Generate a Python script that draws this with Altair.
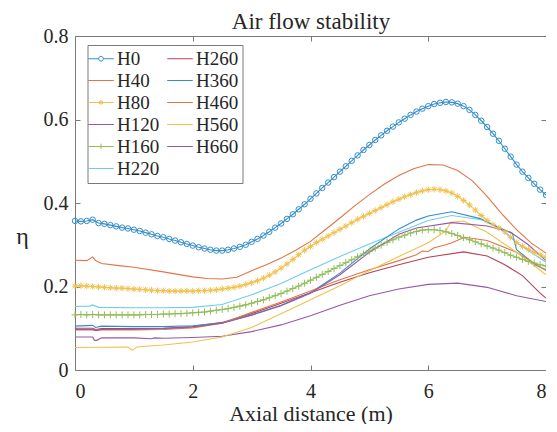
import altair as alt
import pandas as pd

# ---------------- data ----------------
x_fine = [round(i * 0.1, 1) for i in range(81)]

H0_y = [0.357, 0.356, 0.357, 0.360, 0.352, 0.350, 0.347, 0.344, 0.341, 0.339,
        0.336, 0.333, 0.329, 0.325, 0.321, 0.318, 0.314, 0.310, 0.306, 0.302,
        0.298, 0.294, 0.291, 0.288, 0.286, 0.286, 0.288, 0.291, 0.295, 0.300,
        0.307, 0.314, 0.322, 0.331, 0.341, 0.351, 0.362, 0.373, 0.385, 0.397,
        0.410, 0.423, 0.436, 0.449, 0.462, 0.475, 0.488, 0.501, 0.514, 0.527,
        0.539, 0.551, 0.562, 0.573, 0.583, 0.593, 0.602, 0.611, 0.619, 0.626,
        0.632, 0.637, 0.640, 0.642, 0.641, 0.638, 0.632, 0.623, 0.611, 0.597,
        0.582, 0.566, 0.549, 0.530, 0.511, 0.492, 0.475, 0.460, 0.446, 0.432, 0.419]

H80_y = [0.201, 0.202, 0.201, 0.200, 0.199, 0.198, 0.197, 0.196, 0.196, 0.195,
         0.194, 0.193, 0.192, 0.191, 0.190, 0.190, 0.189, 0.189, 0.189, 0.189,
         0.189, 0.190, 0.190, 0.191, 0.192, 0.194, 0.196, 0.198, 0.201, 0.205,
         0.209, 0.214, 0.220, 0.227, 0.235, 0.244, 0.254, 0.265, 0.276, 0.287,
         0.296, 0.305, 0.313, 0.321, 0.329, 0.337, 0.345, 0.353, 0.361, 0.368,
         0.375, 0.382, 0.389, 0.396, 0.403, 0.409, 0.415, 0.420, 0.425, 0.429,
         0.432, 0.433, 0.432, 0.429, 0.424, 0.416, 0.406, 0.395, 0.383, 0.370,
         0.358, 0.348, 0.340, 0.331, 0.318, 0.305, 0.296, 0.289, 0.282, 0.276, 0.270]

H160_y = [0.132, 0.133, 0.132, 0.133, 0.132, 0.132, 0.132, 0.132, 0.132, 0.132,
          0.132, 0.132, 0.133, 0.133, 0.133, 0.134, 0.134, 0.135, 0.135, 0.136,
          0.137, 0.138, 0.139, 0.141, 0.143, 0.145, 0.147, 0.150, 0.153, 0.156,
          0.160, 0.164, 0.168, 0.173, 0.178, 0.183, 0.189, 0.195, 0.201, 0.208,
          0.215, 0.222, 0.229, 0.236, 0.243, 0.250, 0.257, 0.264, 0.271, 0.278,
          0.285, 0.292, 0.299, 0.306, 0.312, 0.318, 0.323, 0.328, 0.332, 0.335,
          0.336, 0.336, 0.334, 0.331, 0.327, 0.322, 0.317, 0.312, 0.307, 0.302,
          0.297, 0.292, 0.287, 0.281, 0.275, 0.270, 0.265, 0.260, 0.256, 0.252, 0.249]

H40_x = [0, 0.2, 0.3, 0.35, 0.45, 0.75, 1.0, 1.5, 2.0, 2.25, 2.5, 2.75, 3.0, 3.25, 3.5,
         3.75, 4.0, 4.25, 4.5, 4.75, 5.0, 5.25, 5.5, 5.75, 6.0, 6.25, 6.5, 6.75, 7.0,
         7.25, 7.5, 7.75, 8.0]
H40_y = [0.263, 0.262, 0.271, 0.262, 0.255, 0.250, 0.246, 0.235, 0.223, 0.219, 0.218,
         0.222, 0.238, 0.252, 0.268, 0.287, 0.308, 0.336, 0.364, 0.393, 0.420, 0.445,
         0.466, 0.482, 0.492, 0.491, 0.478, 0.453, 0.416, 0.374, 0.336, 0.304, 0.280]

H120_x = [0, 0.3, 0.33, 0.37, 0.45, 1.0, 1.3, 1.35, 1.5, 2.0, 2.5, 3.0, 3.5, 4.0, 4.5,
          5.0, 5.5, 6.0, 6.5, 7.0, 7.5, 8.0]
H120_y = [0.079, 0.079, 0.071, 0.071, 0.077, 0.077, 0.075, 0.077, 0.076, 0.078, 0.081,
          0.092, 0.108, 0.130, 0.155, 0.178, 0.194, 0.205, 0.208, 0.198, 0.178, 0.164]

H220_x = [0, 0.25, 0.3, 0.4, 1.0, 1.5, 2.0, 2.5, 3.0, 3.5, 4.0, 4.5, 5.0, 5.5, 6.0,
          6.4, 6.9, 7.2, 7.5, 8.0]
H220_y = [0.152, 0.153, 0.156, 0.150, 0.149, 0.149, 0.150, 0.157, 0.180, 0.207, 0.240,
          0.272, 0.302, 0.330, 0.358, 0.370, 0.360, 0.342, 0.305, 0.258]

H260_x = [0, 0.3, 0.35, 0.45, 1.0, 1.5, 2.0, 2.5, 3.0, 3.5, 4.0, 4.5, 5.0, 5.5, 6.0,
          6.6, 7.0, 7.3, 7.6, 7.9, 8.0]
H260_y = [0.100, 0.100, 0.097, 0.099, 0.099, 0.100, 0.104, 0.114, 0.135, 0.160, 0.185,
          0.210, 0.233, 0.252, 0.270, 0.283, 0.273, 0.252, 0.226, 0.184, 0.172]

H360_x = [0, 0.3, 0.35, 0.45, 1.0, 1.5, 2.0, 2.5, 3.0, 3.5, 4.0, 4.5, 5.0, 5.5, 5.8,
          6.0, 6.4, 6.9, 7.1, 7.43, 7.5, 7.83, 8.0]
H360_y = [0.105, 0.107, 0.102, 0.105, 0.104, 0.104, 0.106, 0.113, 0.132, 0.155, 0.185,
          0.232, 0.290, 0.338, 0.359, 0.369, 0.379, 0.362, 0.347, 0.327, 0.288, 0.251, 0.240]

H460_x = [0, 0.3, 0.35, 0.45, 1.0, 1.5, 2.0, 2.5, 3.0, 3.5, 4.0, 4.5, 5.0, 5.5, 5.8,
          5.9, 6.0, 6.1, 6.3, 6.4, 6.62, 7.0, 7.5, 8.0]
H460_y = [0.096, 0.096, 0.094, 0.096, 0.096, 0.097, 0.101, 0.112, 0.138, 0.163, 0.189,
          0.216, 0.240, 0.262, 0.276, 0.285, 0.284, 0.293, 0.300, 0.305, 0.318, 0.310,
          0.282, 0.238]

H560_x = [0, 0.9, 0.97, 1.05, 1.2, 1.5, 2.0, 2.5, 3.0, 3.5, 4.0, 4.5, 5.0, 5.5, 6.0,
          6.3, 6.38, 6.6, 7.0, 7.5, 8.0]
H560_y = [0.054, 0.055, 0.047, 0.055, 0.057, 0.060, 0.067, 0.079, 0.102, 0.135, 0.168,
          0.202, 0.238, 0.272, 0.305, 0.333, 0.354, 0.357, 0.330, 0.282, 0.228]

H660_x = [0, 0.3, 0.35, 0.45, 1.0, 1.5, 2.0, 2.5, 3.0, 3.5, 4.0, 4.5, 5.0, 5.5, 5.8,
          6.4, 7.0, 7.4, 7.7, 8.0]
H660_y = [0.097, 0.097, 0.095, 0.097, 0.098, 0.099, 0.103, 0.112, 0.131, 0.154, 0.184,
          0.228, 0.282, 0.325, 0.340, 0.353, 0.345, 0.330, 0.300, 0.262]

series_data = {
    "H0": (x_fine, H0_y), "H40": (H40_x, H40_y), "H80": (x_fine, H80_y),
    "H120": (H120_x, H120_y), "H160": (x_fine, H160_y), "H220": (H220_x, H220_y),
    "H260": (H260_x, H260_y), "H360": (H360_x, H360_y), "H460": (H460_x, H460_y),
    "H560": (H560_x, H560_y), "H660": (H660_x, H660_y),
}

colors = {
    "H0": "#338ECA", "H40": "#E17547", "H80": "#F1C14D", "H120": "#9859A5",
    "H160": "#92BD59", "H220": "#71CBF1", "H260": "#B54359", "H360": "#338ECA",
    "H460": "#E17547", "H560": "#F1C14D", "H660": "#9859A5",
}

# legend fills column by column: first 6 entries in column 1, rest in column 2
legend_order = ["H0", "H40", "H80", "H120", "H160", "H220",
                "H260", "H360", "H460", "H560", "H660"]

LINE = "M-1.6,0L1.6,0"
legend_shapes = {
    "H0": "M-1.6,0L-0.3,0M0.3,0L1.6,0M0.3,0A0.3,0.3,0,1,1,-0.3,0A0.3,0.3,0,1,1,0.3,0",
    "H80": "M-1.6,0L1.6,0M0,-0.3L0,0.3M-0.26,-0.18L0.26,0.18M-0.26,0.18L0.26,-0.18",
    "H160": "M-1.6,0L1.6,0M0,-0.35L0,0.35",
}

rows = []
for name, (xs, ys) in series_data.items():
    for xv, yv in zip(xs, ys):
        rows.append({"series": name, "x": xv, "y": yv})
df = pd.DataFrame(rows)

FONT = "Liberation Serif"
TXT = "#262626"
AX = "#7a7a7a"

color_scale = alt.Scale(domain=legend_order, range=[colors[s] for s in legend_order])
shape_scale = alt.Scale(domain=legend_order,
                        range=[legend_shapes.get(s, LINE) for s in legend_order])
xs_scale = alt.Scale(domain=[0, 8], nice=False, zero=False)
ys_scale = alt.Scale(domain=[0, 0.8], nice=False)

inward = alt.ExprRef(expr="-5")

# bottom / left axes (with labels and titles)
x_axis = alt.Axis(orient="bottom", values=[0, 2, 4, 6, 8], format="~g", grid=False,
                  title="Axial distance (m)", titleFontSize=22,
                  titleFontWeight="normal", titleColor=TXT, titleBaseline="alphabetic",
                  titleY=50, labelFontSize=20, labelColor=TXT,
                  labelPadding=16, tickSize=inward, tickColor=AX, domainColor=AX)
y_axis = alt.Axis(orient="left", values=[0, 0.2, 0.4, 0.6, 0.8], format="~g", grid=False,
                  title="η", titleFontSize=24, titleFontWeight="normal",
                  titleColor=TXT, titleAngle=0, titleAlign="center",
                  titleBaseline="middle", titleX=-53, titleY=200,
                  labelFontSize=20, labelColor=TXT, labelPadding=12,
                  tickSize=inward, tickColor=AX, domainColor=AX)
# top axis carries the chart title, so it sits exactly above the plot box
x_top = alt.Axis(orient="top", values=[0, 2, 4, 6, 8], labels=False,
                 title="Air flow stability", titleFontSize=23,
                 titleFontWeight="normal", titleColor=TXT, titleBaseline="alphabetic",
                 titleY=-8, grid=False, tickSize=inward, tickColor=AX, domainColor=AX)
y_right = alt.Axis(orient="right", values=[0, 0.2, 0.4, 0.6, 0.8], labels=False,
                   title=None, grid=False, tickSize=inward, tickColor=AX, domainColor=AX)

legend_def = alt.Legend(
    orient="none", legendX=12.5, legendY=9, columns=2, title=None, padding=4,
    strokeColor=AX, fillColor="white", labelFontSize=19,
    labelColor=TXT, symbolSize=256, symbolStrokeWidth=1,
    symbolFillColor="transparent", symbolOpacity=1, rowPadding=2,
    columnPadding=5, labelOffset=6.5,
)

# first layer: invisible points carrying the bottom/left axes
axes_layer = alt.Chart(df).mark_point(filled=False, opacity=0).encode(
    x=alt.X("x:Q", scale=xs_scale, axis=x_axis),
    y=alt.Y("y:Q", scale=ys_scale, axis=y_axis),
)

lines = alt.Chart(df).mark_line(strokeWidth=1.1).encode(
    x=alt.X("x:Q", scale=xs_scale, axis=x_top),
    y=alt.Y("y:Q", scale=ys_scale, axis=y_right),
    color=alt.Color("series:N", scale=color_scale, legend=legend_def),
)


def markers(name, shape, size):
    return alt.Chart(df[df["series"] == name]).mark_point(
        shape=shape, size=size, filled=False, strokeWidth=1, opacity=1,
        color=colors[name],
    ).encode(
        x=alt.X("x:Q", scale=xs_scale, axis=None),
        y=alt.Y("y:Q", scale=ys_scale, axis=None),
    )


m0 = markers("H0", "circle", 30)
m80 = markers("H80", "M-1,0L1,0M0,-1L0,1M-0.7,-0.7L0.7,0.7M-0.7,0.7L0.7,-0.7", 40)
m160 = markers("H160", "M-1,0L1,0M0,-1L0,1", 50)

legend_layer = alt.Chart(df).mark_point(filled=False, opacity=0).encode(
    x=alt.X("x:Q", scale=xs_scale, axis=None),
    y=alt.Y("y:Q", scale=ys_scale, axis=None),
    color=alt.Color("series:N", scale=color_scale, legend=legend_def),
    shape=alt.Shape("series:N", scale=shape_scale, legend=legend_def),
)

chart = alt.layer(axes_layer, lines, m0, m80, m160, legend_layer).resolve_axis(
    x="independent", y="independent"
).properties(
    width=471, height=334,
    autosize=alt.AutoSizeParams(type="none"),
    padding={"left": 67, "top": 28, "right": 0, "bottom": 54},
).configure(
    background="white", font=FONT
).configure_axis(
    labelFont=FONT, titleFont=FONT
).configure_legend(
    labelFont=FONT
).configure_text(font=FONT).configure_view(stroke="transparent")

chart.save("out.html", embed_options={"renderer": "svg", "actions": False})
